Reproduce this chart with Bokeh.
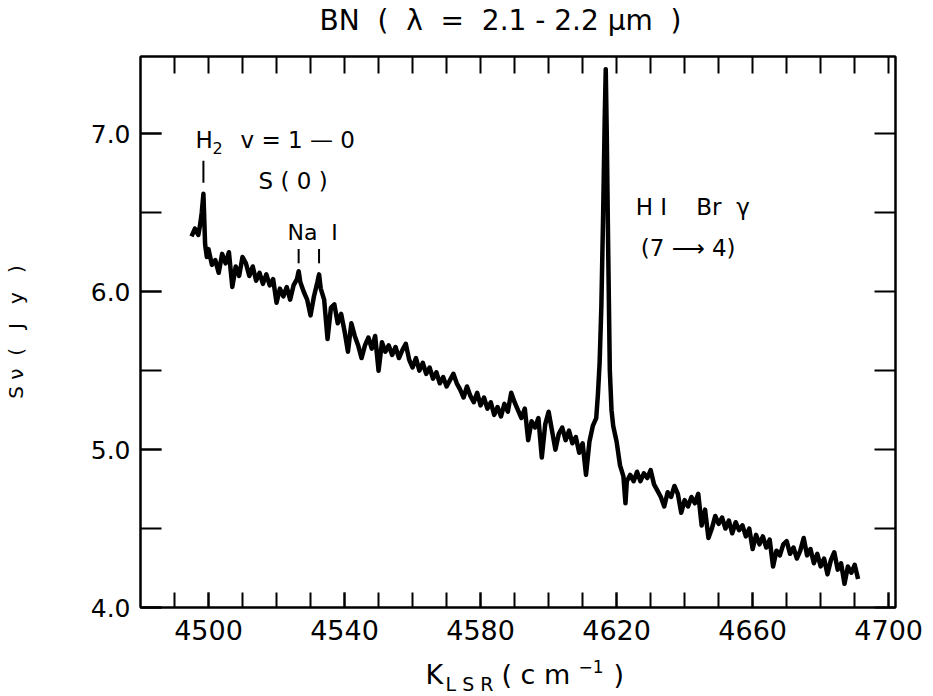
from bokeh.plotting import figure
from bokeh.layouts import column
from bokeh.models import LinearAxis, FixedTicker, Label, ColumnDataSource, PrintfTickFormatter
from bokeh.embed import file_html
from bokeh.resources import INLINE

# ---------------- data ----------------
wavenumber = [
    4495, 4496, 4497, 4497.5, 4498, 4498.5, 4499, 4499.5, 4500, 4501, 4502, 4503, 4504, 4505,
    4506, 4507, 4508, 4509, 4510, 4511, 4512, 4513, 4514, 4515, 4516, 4517, 4518, 4519,
    4520, 4521, 4522, 4523, 4524, 4525, 4526, 4526.5, 4527, 4528, 4529, 4530, 4531, 4532,
    4532.5, 4533, 4534, 4535, 4536, 4537, 4538, 4539, 4540, 4541, 4542, 4543, 4544, 4545,
    4546, 4547, 4548, 4549, 4550, 4551, 4552, 4553, 4554, 4555, 4556, 4557, 4558, 4559,
    4560, 4561, 4562, 4563, 4564, 4565, 4566, 4567, 4568, 4569, 4570, 4571, 4572, 4573,
    4574, 4575, 4576, 4577, 4578, 4579, 4580, 4581, 4582, 4583, 4584, 4585, 4586, 4587,
    4588, 4589, 4590, 4591, 4592, 4593, 4594, 4595, 4596, 4597, 4598, 4599, 4600, 4601,
    4602, 4603, 4604, 4605, 4606, 4607, 4608, 4609, 4610, 4611, 4612, 4613, 4614, 4614.5,
    4615, 4615.5, 4616, 4616.5, 4616.8, 4617.1, 4617.5, 4618, 4618.5, 4619, 4620, 4621,
    4622, 4622.6, 4623, 4624, 4625, 4626, 4627, 4628, 4629, 4630, 4631, 4632, 4633, 4634,
    4635, 4636, 4637, 4638, 4639, 4640, 4641, 4642, 4643, 4644, 4645, 4646, 4647, 4648,
    4649, 4650, 4651, 4652, 4653, 4654, 4655, 4656, 4657, 4658, 4659, 4660, 4661, 4662,
    4663, 4664, 4665, 4666, 4667, 4668, 4669, 4670, 4671, 4672, 4673, 4674, 4675, 4676,
    4677, 4678, 4679, 4680, 4681, 4682, 4683, 4684, 4685, 4686, 4687, 4688, 4689, 4690,
    4691,
]
flux_jy = [
    6.35, 6.40, 6.36, 6.42, 6.50, 6.62, 6.30, 6.22, 6.27, 6.17, 6.20, 6.12, 6.24, 6.18,
    6.25, 6.03, 6.16, 6.10, 6.22, 6.18, 6.10, 6.16, 6.07, 6.12, 6.05, 6.11, 6.04, 6.08,
    5.93, 6.02, 5.97, 6.03, 5.95, 6.04, 6.08, 6.13, 6.06, 6.00, 5.95, 5.85, 5.97, 6.06,
    6.11, 6.02, 5.95, 5.70, 5.90, 5.92, 5.80, 5.86, 5.75, 5.62, 5.80, 5.72, 5.66, 5.58,
    5.66, 5.71, 5.64, 5.72, 5.50, 5.68, 5.62, 5.66, 5.60, 5.65, 5.58, 5.63, 5.67, 5.57,
    5.52, 5.58, 5.50, 5.55, 5.48, 5.52, 5.45, 5.49, 5.42, 5.46, 5.40, 5.44, 5.48, 5.42,
    5.38, 5.33, 5.40, 5.34, 5.30, 5.36, 5.28, 5.33, 5.26, 5.30, 5.22, 5.27, 5.21, 5.29,
    5.24, 5.36, 5.30, 5.25, 5.20, 5.26, 5.06, 5.18, 5.14, 5.20, 4.95, 5.16, 5.24, 5.12,
    5.00, 5.10, 5.14, 5.06, 5.12, 5.04, 5.08, 4.98, 5.04, 4.84, 5.05, 5.15, 5.20, 5.35,
    5.55, 5.90, 6.45, 7.10, 7.41, 7.00, 6.30, 5.50, 5.25, 5.15, 5.05, 4.90,
    4.83, 4.66, 4.80, 4.84, 4.80, 4.86, 4.80, 4.85, 4.82, 4.87, 4.78, 4.74, 4.70, 4.64,
    4.73, 4.70, 4.77, 4.72, 4.60, 4.68, 4.64, 4.70, 4.66, 4.72, 4.52, 4.62, 4.44, 4.50,
    4.58, 4.53, 4.57, 4.50, 4.55, 4.47, 4.54, 4.49, 4.52, 4.45, 4.50, 4.37, 4.46, 4.40,
    4.45, 4.38, 4.43, 4.26, 4.36, 4.33, 4.40, 4.42, 4.34, 4.38, 4.31, 4.36, 4.44, 4.33,
    4.37, 4.28, 4.34, 4.26, 4.31, 4.21, 4.30, 4.35, 4.24, 4.28, 4.15, 4.26, 4.22, 4.27,
    4.18,
]

x_ticks_all = [4490, 4500, 4510, 4520, 4530, 4540, 4550, 4560, 4570, 4580, 4590, 4600,
               4610, 4620, 4630, 4640, 4650, 4660, 4670, 4680, 4690, 4700]
x_labeled = [4500, 4540, 4580, 4620, 4660, 4700]
y_ticks_all = [4.0, 4.5, 5.0, 5.5, 6.0, 6.5, 7.0]
y_labeled = [4.0, 5.0, 6.0, 7.0]

# line identification markers (wavenumber, bottom, top in Jy)
marker_x = [4498.5, 4526.5, 4532.5]
marker_y0 = [6.69, 6.18, 6.18]
marker_y1 = [6.83, 6.27, 6.27]

FONT = "DejaVu Sans"
NB = "\u00a0"
TOTAL_W = 928
FRAME_L, FRAME_R = 140, 895   # page x of the plot frame (the column aligns frames)

# ---------------- main plot ----------------
p = figure(width=TOTAL_W, height=607, x_range=(4480, 4702), y_range=(4.0, 7.49),
           x_axis_type=None, y_axis_type=None, title=None,
           output_backend="svg", toolbar_location=None,
           min_border_left=FRAME_L, min_border_right=TOTAL_W - FRAME_R,
           min_border_top=8, min_border_bottom=48)
p.grid.visible = False
p.outline_line_color = "black"
p.outline_line_width = 2


def style_axis(ax, tick_len):
    for kind in ("major", "minor"):
        setattr(ax, kind + "_tick_in", tick_len)
        setattr(ax, kind + "_tick_out", 0)
        setattr(ax, kind + "_tick_line_width", 2)
        setattr(ax, kind + "_tick_line_color", "black")
    ax.axis_line_width = 2
    ax.axis_line_color = "black"
    ax.major_label_text_font = FONT
    ax.major_label_text_color = "black"


bottom = LinearAxis(ticker=FixedTicker(ticks=x_labeled, minor_ticks=x_ticks_all))
style_axis(bottom, 15)
bottom.major_label_text_font_size = "27px"
bottom.major_label_standoff = 12
top = LinearAxis(ticker=FixedTicker(ticks=[], minor_ticks=x_ticks_all))
style_axis(top, 17)
left = LinearAxis(ticker=FixedTicker(ticks=y_labeled, minor_ticks=y_ticks_all),
                  formatter=PrintfTickFormatter(format="%.1f"))
style_axis(left, 21)
left.major_label_text_font_size = "25px"
left.major_label_standoff = 10
left.axis_label = "S" + NB + "ν" + NB * 2 + "(" + NB * 3 + "J" + NB * 3 + "y" + NB * 3 + ")"
left.axis_label_text_font = FONT
left.axis_label_text_font_size = "20px"
left.axis_label_text_font_style = "normal"
left.axis_label_text_color = "black"
left.axis_label_standoff = 60
right = LinearAxis(ticker=FixedTicker(ticks=[], minor_ticks=y_ticks_all))
style_axis(right, 21)

p.add_layout(bottom, "below")
p.add_layout(top, "above")
p.add_layout(left, "left")
p.add_layout(right, "right")

src = ColumnDataSource(dict(x=wavenumber, y=flux_jy))
p.line("x", "y", source=src, line_color="black", line_width=4.5, line_join="round")

msrc = ColumnDataSource(dict(x=marker_x, y0=marker_y0, y1=marker_y1))
p.segment(x0="x", y0="y0", x1="x", y1="y1", source=msrc, line_color="black", line_width=2)

PX_PER_JY = 551 / 3.49


def lab(fig, text, x, y, size_px, align="left", ypx=1.0):
    # y is the wanted baseline; the renderer draws ~0.4 em lower, so lift it
    lift = 0.4 * size_px * ypx
    fig.add_layout(Label(x=x, y=y + lift, text=text, text_font=FONT,
                         text_font_size=f"{size_px}px", text_color="black",
                         text_align=align, text_baseline="alphabetic"))


# spectral line annotations (data units)
J = 1 / PX_PER_JY
lab(p, "H", 4496.2, 6.90, 23, ypx=J)
lab(p, "2", 4501.2, 6.87, 16, ypx=J)
lab(p, "v = 1 — 0", 4509.4, 6.90, 23, ypx=J)
lab(p, "S" + NB + "(" + NB + "0" + NB + ")", 4514.7, 6.64, 23, ypx=J)
lab(p, "Na" + NB * 2 + "I", 4523.2, 6.32, 22, ypx=J)
lab(p, "H I" + NB * 4 + "Br" + NB * 2 + "γ", 4625.6, 6.48, 23, ypx=J)
lab(p, "(7 ⟶ 4)", 4627.1, 6.22, 23, ypx=J)


# ---------------- text panels: x range = page x of the aligned frame, y = -page y ----------------
def text_fig(h, y0):
    f = figure(width=TOTAL_W, height=h, x_range=(FRAME_L, FRAME_R), y_range=(-(y0 + h), -y0),
               x_axis_type=None, y_axis_type=None, title=None, output_backend="svg",
               toolbar_location=None, min_border=0)
    f.outline_line_color = None
    f.grid.visible = False
    return f


title_fig = text_fig(48, 0)
lab(title_fig, "BN" + NB * 2 + "(" + NB * 2 + "λ" + NB * 2 + "=" + NB * 2 + "2.1 - 2.2 μm" + NB * 2 + ")",
    500, -31, 28, align="center")

xlab_fig = text_fig(41, 655)
lab(xlab_fig, "K", 425, -685, 27)
lab(xlab_fig, "L" + NB + "S" + NB + "R", 445, -691, 19)
lab(xlab_fig, "(", 501, -685, 27)
lab(xlab_fig, "c m", 520, -685, 27)
lab(xlab_fig, "−1", 578, -673, 17)
lab(xlab_fig, ")", 613, -685, 27)

layout = column(title_fig, p, xlab_fig)
open("out.html", "w").write(file_html(layout, INLINE))
